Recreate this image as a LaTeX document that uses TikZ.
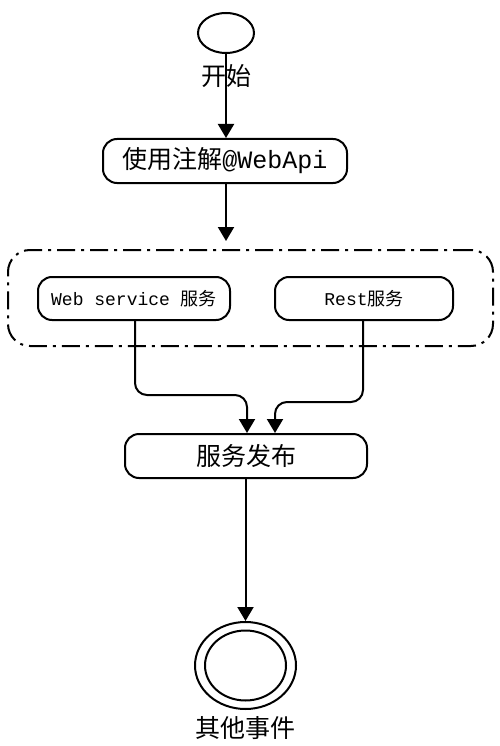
\documentclass[tikz,border=0pt]{standalone}
\usepackage{fontspec}
\setmainfont{Liberation Serif}
\newfontfamily\cjk{Noto Sans CJK SC}
\newfontfamily\mono{Liberation Mono}
\usetikzlibrary{arrows.meta}
\usetikzlibrary{shapes.geometric}
\tikzset{
  box/.style={draw, rounded corners=14pt, minimum height=44pt},
  flow/.style={-{Triangle[width=16pt,length=14pt]}},
  big/.style={font=\cjk\fontsize{25}{25}\selectfont},
  small/.style={font=\cjk\fontsize{18}{18}\selectfont}
}
\begin{document}
\begin{tikzpicture}[x=1pt, y=-1pt, line width=2pt, draw=black, text=black]
\useasboundingbox (0,0) rectangle (500,746);
\node[draw, ellipse, minimum width=56pt, minimum height=40pt] (start) at (226,33) {};
\node[big] (startlbl) at (226,76) {开始};
\node[box, big, minimum width=244pt] (webapi) at (225,161) {使用注解{\mono @WebApi}};
\node[draw, rounded corners=22pt, dash pattern=on 18pt off 6pt on 3pt off 6pt,
  minimum width=485pt, minimum height=96pt] (group) at (250.5,298) {};
\node[box, small, minimum width=192pt, minimum height=43pt] (ws) at (134,298.5) {{\mono Web service }服务};
\node[box, small, minimum width=178pt, minimum height=43pt] (rest) at (364,298.5) {{\mono Rest}服务};
\node[box, big, minimum width=242pt] (publish) at (246,456) {服务发布};
\node[draw, ellipse, minimum width=101pt, minimum height=87pt] (end) at (245.5,665.5) {};
\node[draw, ellipse, minimum width=81pt, minimum height=70pt] (endin) at (245.5,665.5) {};
\node[big] (endlbl) at (245.5,728) {其他事件};
\coordinate (j1) at (247,395);
\coordinate (j2) at (275,402);
\draw[flow] (start.south) -- (start.south |- webapi.north);
\draw[flow, shorten >=8pt] (start.south |- webapi.south) -- (start.south |- group.north);
\draw[flow, rounded corners=12pt] (ws.south -| 135,0) |- (j1) -- (j1 |- publish.north);
\draw[flow, rounded corners=12pt] (rest.south -| 363,0) |- (j2) -- (j2 |- publish.north);
\draw[flow] (publish.south -| end.north) -- (end.north);
\end{tikzpicture}
\end{document}
